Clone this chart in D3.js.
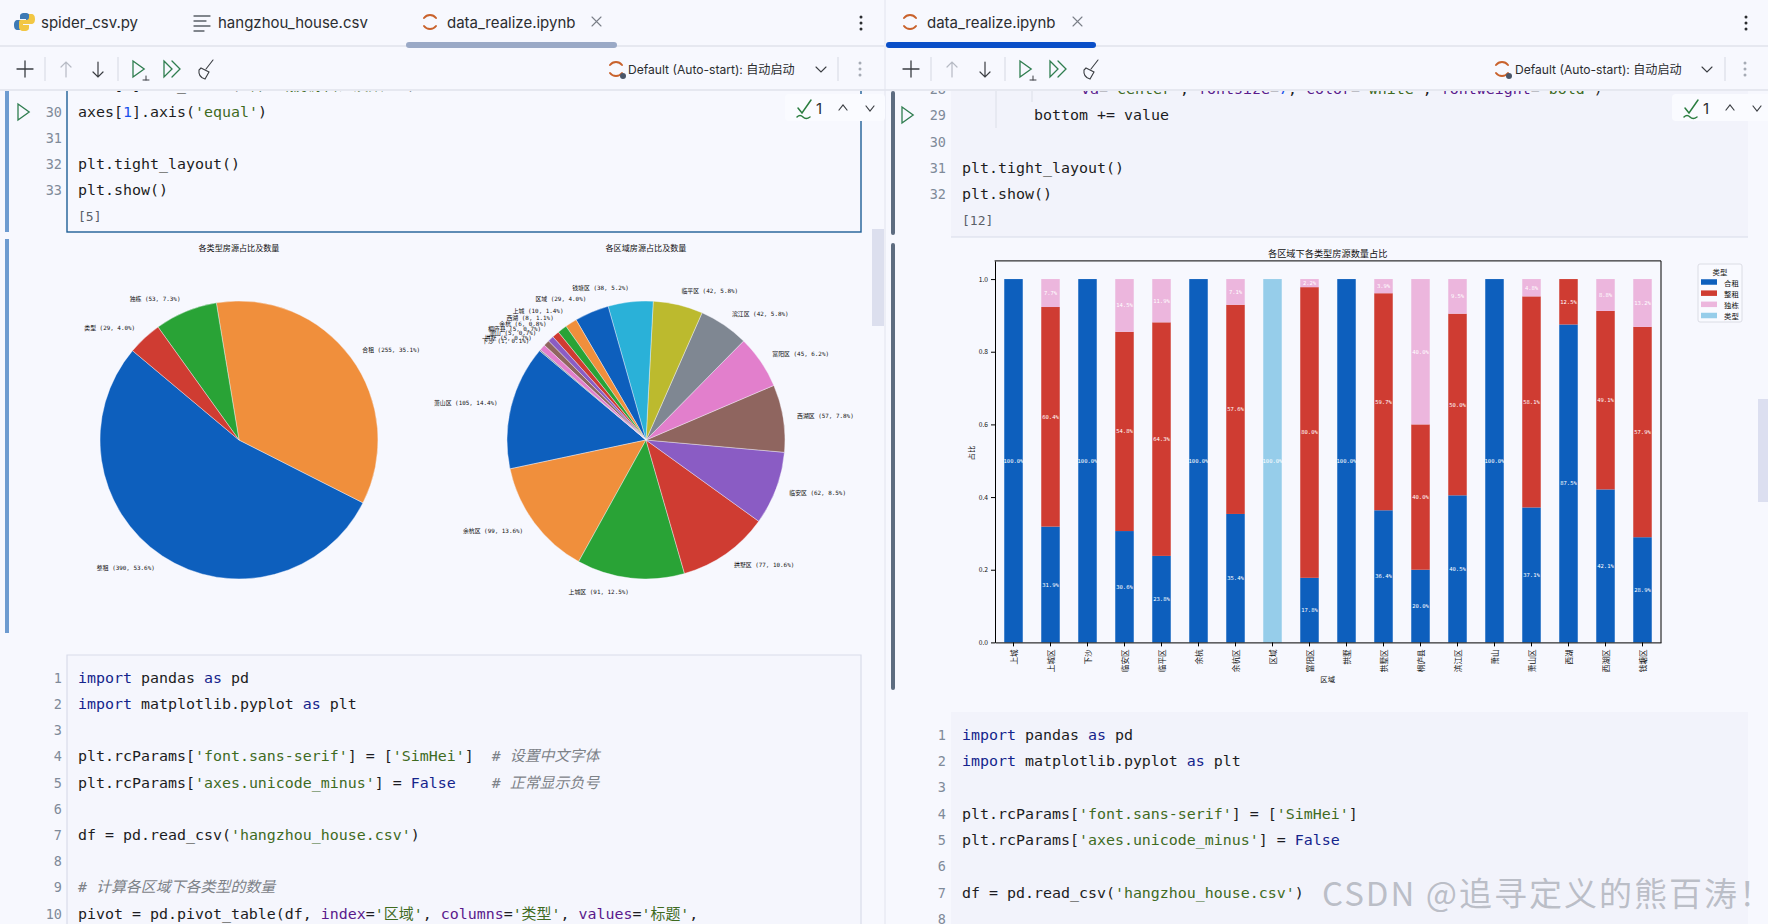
<!DOCTYPE html>
<html>
<head>
<meta charset="utf-8">
<title>data_realize.ipynb</title>
<script src="https://cdn.jsdelivr.net/npm/d3@7"></script>
<style>
  html, body { margin: 0; padding: 0; background: #f7f8fe; overflow: hidden; }
  svg { display: block; }
  text { font-family: "Noto Sans CJK SC", sans-serif; fill: #111; }
  .ui { font-family: Inter, "Noto Sans CJK SC", sans-serif; fill: #2b2d30; }
  .code { font-family: "DejaVu Sans Mono", "Noto Sans CJK SC", monospace; font-size: 14.95px; white-space: pre; fill: #1c1c22; }
  .lnum { font-family: "DejaVu Sans Mono", monospace; font-size: 13.5px; fill: #7f8a99; text-anchor: end; }
  .kw { fill: #14248c; }
  .str { fill: #3f6b1f; }
  .num { fill: #1750eb; }
  .param { fill: #5a1a8c; }
  .cmt { fill: #7d8288; font-style: italic; }
  .domain, .tick line { stroke: #000; stroke-width: 1; }
  .small { font-family: "DejaVu Sans Mono", "Noto Sans CJK SC", monospace; white-space: pre; }
</style>
</head>
<body>
<svg id="page" width="1768" height="924"></svg>
<script>
// pie 1: house types
const typeNames = ['整租', '合租', '独栋', '类型'];
const typeCounts = [390, 255, 53, 29];

// pie 2: regions
const pieRegions = ['萧山区', '余杭区', '上城区', '拱墅区', '临安区', '西湖区', '富阳区', '滨江区', '临平区', '钱塘区', '区域', '上城', '西湖', '余杭', '桐庐县', '萧山', '拱墅', '下沙'];
const pieRegionCounts = [105, 99, 91, 77, 62, 57, 45, 42, 42, 38, 29, 10, 8, 6, 5, 5, 5, 1];

// stacked bars
const barRegions = ['上城', '上城区', '下沙', '临安区', '临平区', '余杭', '余杭区', '区域', '富阳区', '拱墅', '拱墅区', '桐庐县', '滨江区', '萧山', '萧山区', '西湖', '西湖区', '钱塘区'];
const barTypes = ['合租', '整租', '独栋', '类型'];
const shared = [10, 29, 1, 19, 10, 6, 35, 0, 8, 5, 28, 1, 17, 5, 39, 7, 24, 11];
const whole = [0, 55, 0, 34, 27, 0, 57, 0, 36, 0, 46, 2, 21, 0, 61, 1, 28, 22];
const house = [0, 7, 0, 9, 5, 0, 7, 0, 1, 0, 3, 2, 4, 0, 5, 0, 5, 5];
const header = [0, 0, 0, 0, 0, 0, 0, 29, 0, 0, 0, 0, 0, 0, 0, 0, 0, 0];
const yTicks = [0, 0.2, 0.4, 0.6, 0.8, 1];

const pieColors = ['#0d5fbd', '#f08f3c', '#29a336', '#cf3c32', '#8a5cc4', '#8f655f', '#e27fcc', '#7f8792', '#bcba2e', '#2ab1d8'];
const barColors = ['#0d5fbd', '#cf3c32', '#ecb6dd', '#96cdea'];

const leftCodeTop = [
  [30, "axes[1].axis('equal')"],
  [31, ''],
  [32, 'plt.tight_layout()'],
  [33, 'plt.show()']
];
const leftCodeBottom = [
  "import pandas as pd",
  "import matplotlib.pyplot as plt",
  "",
  "plt.rcParams['font.sans-serif'] = ['SimHei']  # 设置中文字体",
  "plt.rcParams['axes.unicode_minus'] = False    # 正常显示负号",
  "",
  "df = pd.read_csv('hangzhou_house.csv')",
  "",
  "# 计算各区域下各类型的数量",
  "pivot = pd.pivot_table(df, index='区域', columns='类型', values='标题',"
];
const rightCodeBottom = [
  "import pandas as pd",
  "import matplotlib.pyplot as plt",
  "",
  "plt.rcParams['font.sans-serif'] = ['SimHei']",
  "plt.rcParams['axes.unicode_minus'] = False",
  "",
  "df = pd.read_csv('hangzhou_house.csv')",
  ""
];

const svg = d3.select('#page');
const rad = Math.PI / 180;

// ---------- editor chrome ----------
function line(x1, y1, x2, y2, color, w) {
  return svg.append('line').attr('x1', x1).attr('y1', y1).attr('x2', x2).attr('y2', y2)
    .attr('stroke', color).attr('stroke-width', w || 1);
}
function rect(x, y, w, h, fill, r) {
  return svg.append('rect').attr('x', x).attr('y', y).attr('width', w).attr('height', h)
    .attr('fill', fill).attr('rx', r || 0);
}
function path(d, stroke, w, fill) {
  return svg.append('path').attr('d', d).attr('stroke', stroke || 'none')
    .attr('stroke-width', w || 1.3).attr('fill', fill || 'none').attr('stroke-linecap', 'round');
}
function uiText(x, y, s, size) {
  return svg.append('text').attr('class', 'ui').attr('x', x).attr('y', y)
    .attr('dominant-baseline', 'central').attr('font-size', size).text(s);
}
function kebab(x, y, color) {
  [-6, 0, 6].forEach(d => svg.append('circle').attr('cx', x).attr('cy', y + d).attr('r', 1.5).attr('fill', color));
}
function jupyter(x, y) {
  path(`M${x - 6} ${y - 4}A7.5 7.5 0 0 1 ${x + 6} ${y - 4}`, '#c9622c', 2);
  path(`M${x - 6} ${y + 4}A7.5 7.5 0 0 0 ${x + 6} ${y + 4}`, '#c9622c', 2);
}
function playOutline(x, y, h) {
  path(`M${x} ${y - h}L${x + h * 1.4} ${y}L${x} ${y + h}Z`, '#2f7d4f', 1.3);
}
function toolbar(o) {
  path(`M${o.plus - 8} 69H${o.plus + 8}M${o.plus} 61V77`, '#3a3d42', 1.3);
  line(o.sep1, 57, o.sep1, 81, '#d5d8e2');
  path(`M${o.up} 62V77M${o.up - 5} 67L${o.up} 62L${o.up + 5} 67`, '#b6bac4', 1.2);
  path(`M${o.down} 62V77M${o.down - 5} 72L${o.down} 77L${o.down + 5} 72`, '#3a3d42', 1.2);
  line(o.sep2, 57, o.sep2, 81, '#d5d8e2');
  playOutline(o.run - 7, 69, 8);
  path(`M${o.run + 6} 76V80M${o.run + 3} 80H${o.run + 9}`, '#3a3d42', 1);
  path(`M${o.all - 8} 61L${o.all} 69L${o.all - 8} 77ZM${o.all} 61L${o.all + 8} 69L${o.all} 77`, '#2f7d4f', 1.3);
  path(`M${o.broom + 8} 60L${o.broom + 1} 69M${o.broom - 4} 68L${o.broom + 4} 72L${o.broom} 79Q${o.broom - 7} 77 ${o.broom - 6} 70Z`, '#3a3d42', 1.1);
  jupyter(o.kernel, 69);
  svg.append('circle').attr('cx', o.kernel + 7).attr('cy', 76).attr('r', 3).attr('fill', '#4a5568');
  uiText(o.kernelText, 69.5, 'Default (Auto-start): 自动启动', 12.1);
  path(`M${o.chevron - 5} 67L${o.chevron} 72L${o.chevron + 5} 67`, '#3a3d42', 1.1);
  line(o.sep3, 57, o.sep3, 81, '#d5d8e2');
  kebab(o.kebab, 69, '#a6abb5');
}
function inspections(x) {
  rect(x, 94, 100, 27, '#fafbff', 4);
  path(`M${x + 13} 108L${x + 17} 113L${x + 26} 100M${x + 12} 117Q${x + 15} 114 ${x + 18} 117T${x + 25} 117`, '#2a7d3f', 1.5);
  uiText(x + 31, 108, '1', 15);
  path(`M${x + 54} 110L${x + 58} 105L${x + 62} 110`, '#3a3d42', 1.2);
  path(`M${x + 81} 106L${x + 85} 111L${x + 89} 106`, '#3a3d42', 1.2);
}

// lightweight python colouring, one tspan per token
const tokenRe = /(#.*$)|('[^']*')|\b(import|as|False)\b|\b(\d+)\b|\b(index|columns|values|va|fontsize|color|fontweight)(?==)/g;
function codeLine(x, y, s, clipId) {
  const t = svg.append('text').attr('class', 'code').attr('x', x).attr('y', y).attr('dominant-baseline', 'central');
  if (clipId) t.attr('clip-path', `url(#${clipId})`);
  let last = 0;
  for (const m of s.matchAll(tokenRe)) {
    if (m.index > last) t.append('tspan').text(s.slice(last, m.index));
    const kind = m[1] ? 'cmt' : m[2] ? 'str' : m[3] ? 'kw' : m[4] ? 'num' : 'param';
    t.append('tspan').attr('class', kind).text(m[0]);
    last = m.index + m[0].length;
  }
  if (last < s.length) t.append('tspan').text(s.slice(last));
}
function lineNum(x, y, n, clipId) {
  const t = svg.append('text').attr('class', 'lnum').attr('x', x).attr('y', y)
    .attr('dominant-baseline', 'central').text(n);
  if (clipId) t.attr('clip-path', `url(#${clipId})`);
}

svg.append('defs').append('clipPath').attr('id', 'belowBar')
  .append('rect').attr('x', 0).attr('y', 91).attr('width', 1768).attr('height', 833);

// left tabs
path('M25 13C20 13 20 15 20 17V19H26V20H18C15 20 14 22 14 25C14 28 15 30 18 30H20V27C20 25 21 24 23 24H28C30 24 30 23 30 21V17C30 15 29 13 25 13Z', null, 1, '#3d7ab5');
path('M25 36C30 36 30 34 30 32V30H24V29H32C35 29 36 27 36 24C36 21 35 19 32 19H30V22C30 24 29 25 27 25H22C20 25 20 26 20 28V32C20 34 21 36 25 36Z', null, 1, '#f2c744').attr('transform', 'translate(-1,-5)');
uiText(41, 22.5, 'spider_csv.py', 15);
path('M194 16H210M194 21H206M194 26H210M194 31H204', '#5b6068', 1.3);
uiText(218, 22.5, 'hangzhou_house.csv', 15);
jupyter(430, 22);
uiText(447, 22.5, 'data_realize.ipynb', 15);
path('M592 17L601 26M601 17L592 26', '#7a7f88', 1.1);
kebab(861, 23, '#2b2d30');
line(0, 46, 884, 46, '#d5d8e2');
rect(406, 42, 211, 6, '#9aa9c6', 3);

// right tabs
jupyter(910, 22);
uiText(927, 22.5, 'data_realize.ipynb', 15);
path('M1073 17L1082 26M1082 17L1073 26', '#7a7f88', 1.1);
kebab(1746, 23, '#2b2d30');
line(885, 46, 1768, 46, '#d5d8e2');
rect(886, 42, 210, 6, '#0a4fc8', 3);

toolbar({ plus: 25, sep1: 45, up: 66, down: 98, sep2: 118, run: 140, all: 172, broom: 205, kernel: 616, kernelText: 628, chevron: 821, sep3: 838, kebab: 860 });
toolbar({ plus: 911, sep1: 931, up: 952, down: 985, sep2: 1005, run: 1027, all: 1058, broom: 1090, kernel: 1502, kernelText: 1515, chevron: 1707, sep3: 1725, kebab: 1745 });
line(0, 90, 1768, 90, '#d5d8e2');
line(885, 0, 885, 924, '#e2e4ee');

// ---------- left notebook cells ----------
rect(5, 91, 4, 141, '#6d9bd0');
rect(5, 239, 4, 394, '#6d9bd0');
svg.append('rect').attr('x', 67).attr('y', 80).attr('width', 794).attr('height', 152)
  .attr('fill', 'none').attr('stroke', '#1f5f96').attr('stroke-width', 1.4).attr('clip-path', 'url(#belowBar)');
inspections(785);
playOutline(18, 112, 8);
// previous line is cut by the toolbar, only its lowest pixels show
lineNum(62, 85, 29, 'belowBar');
codeLine(78, 85, "axes[1].set_title('各区域房源占比及数量')", 'belowBar');
leftCodeTop.forEach(([n, s]) => {
  const y = 112 + (n - 30) * 26;
  lineNum(62, y, n);
  codeLine(78, y, s);
});
svg.append('text').attr('class', 'code').attr('x', 78).attr('y', 216.5).style('font-size', '13px')
  .attr('dominant-baseline', 'central').style('fill', '#5a6068').text('[5]');
rect(872, 229, 12, 97, '#dcdfee');

rect(67, 655, 794, 269, '#f5f6fd');
path('M67 924V655H861V924', '#d9dcea', 1.2);
leftCodeBottom.forEach((s, i) => {
  const y = 677.8 + i * 26.2;
  lineNum(62, y, i + 1);
  codeLine(78, y, s);
});

// ---------- right notebook cells ----------
rect(891, 91, 4, 144, '#5d6c80', 2);
rect(891, 243, 4, 447, '#5d6c80', 2);
rect(951, 91, 797, 146, '#f2f3fb');
line(951, 237, 1748, 237, '#d8dbe8');
inspections(1672);
playOutline(902, 115, 8);
lineNum(946, 89, 28, 'belowBar');
codeLine(1081, 89, "va='center', fontsize=7, color='white', fontweight='bold')", 'belowBar');
lineNum(946, 115, 29);
codeLine(1034, 115, 'bottom += value');
lineNum(946, 142, 30);
lineNum(946, 168, 31);
codeLine(962, 168, 'plt.tight_layout()');
lineNum(946, 194, 32);
codeLine(962, 194, 'plt.show()');
svg.append('text').attr('class', 'code').attr('x', 962).attr('y', 220.5).style('font-size', '13px')
  .attr('dominant-baseline', 'central').style('fill', '#5a6068').text('[12]');
line(996, 91, 996, 128, '#dcdfe8');
line(1032, 91, 1032, 102, '#dcdfe8');
rect(1758, 399, 10, 103, '#dcdff0');

rect(951, 712, 797, 212, '#f2f3fb');
rightCodeBottom.forEach((s, i) => {
  const y = 734.8 + i * 26.3;
  lineNum(946, y, i + 1);
  codeLine(962, y, s);
});

// ---------- pies ----------
function drawPie(cx, title, names, values) {
  const cy = 440, r = 139;
  const total = d3.sum(values);
  // matplotlib startangle=140, counter clockwise: d3 angles run clockwise from 12 o'clock
  const start = (90 - 140) * rad;
  const arcs = d3.pie().sort(null).startAngle(start).endAngle(start - 2 * Math.PI)(values);
  const arc = d3.arc().innerRadius(0).outerRadius(r);
  const labelArc = d3.arc().innerRadius(r * 1.1).outerRadius(r * 1.1);
  const g = svg.append('g').attr('transform', `translate(${cx},${cy})`);
  const colors = d3.scaleOrdinal(d3.range(10), pieColors);

  g.selectAll('path').data(arcs).join('path')
    .attr('d', arc)
    .attr('fill', (d, i) => colors(i % 10))
    .attr('stroke', '#f7f8fe').attr('stroke-width', 0.4);

  g.selectAll('text').data(arcs).join('text')
    .attr('class', 'small')
    .attr('x', d => labelArc.centroid(d)[0])
    .attr('y', d => labelArc.centroid(d)[1])
    .attr('text-anchor', d => labelArc.centroid(d)[0] > 0 ? 'start' : 'end')
    .attr('dominant-baseline', 'central')
    .attr('font-size', 5.9)
    .text((d, i) => `${names[i]} (${d.value}, ${d3.format('.1f')(d.value / total * 100)}%)`);

  svg.append('text').attr('x', cx).attr('y', 247.5).attr('text-anchor', 'middle')
    .attr('dominant-baseline', 'central').attr('font-size', 8.1).text(title);
}
drawPie(239, '各类型房源占比及数量', typeNames, typeCounts);
drawPie(646, '各区域房源占比及数量', pieRegions, pieRegionCounts);

// ---------- stacked bars ----------
const rows = barRegions.map((name, i) => {
  const sum = shared[i] + whole[i] + house[i] + header[i];
  return { name, 合租: shared[i] / sum, 整租: whole[i] / sum, 独栋: house[i] / sum, 类型: header[i] / sum };
});
const series = d3.stack().keys(barTypes)(rows);

const x = d3.scaleBand().domain(barRegions).range([995, 1661]).paddingInner(0.5).paddingOuter(0.25);
const y = d3.scaleLinear().domain([0, 1.05]).range([642.4, 260.9]);
const color = d3.scaleOrdinal(barTypes, barColors);

const barG = svg.append('g');
series.forEach(s => {
  barG.append('g').selectAll('rect').data(s).join('rect')
    .attr('x', d => x(d.data.name))
    .attr('width', x.bandwidth())
    .attr('y', d => y(d[1]))
    .attr('height', d => y(d[0]) - y(d[1]))
    .attr('fill', color(s.key));
  barG.append('g').selectAll('text').data(s.filter(d => d[1] > d[0])).join('text')
    .attr('class', 'small')
    .attr('x', d => x(d.data.name) + x.bandwidth() / 2)
    .attr('y', d => y((d[0] + d[1]) / 2))
    .attr('text-anchor', 'middle').attr('dominant-baseline', 'central')
    .attr('font-size', 5.5)
    .style('fill', '#fff')
    .text(d => d3.format('.1f')((d[1] - d[0]) * 100) + '%');
});

const xAxis = svg.append('g').attr('transform', 'translate(0,642.4)')
  .call(d3.axisBottom(x).tickSize(4).tickSizeOuter(0));
xAxis.selectAll('.tick text')
  .attr('font-size', 7.6).attr('font-family', '"Noto Sans CJK SC"')
  .attr('transform', 'rotate(-90)').attr('text-anchor', 'end').attr('dominant-baseline', 'central')
  .attr('x', -7).attr('y', 0).attr('dy', 0);

const yAxis = svg.append('g').attr('transform', 'translate(995,0)')
  .call(d3.axisLeft(y).tickValues(yTicks).tickFormat(d3.format('.1f')).tickSize(4).tickSizeOuter(0));
yAxis.selectAll('.tick text').attr('font-size', 6.7).attr('font-family', '"DejaVu Sans Mono"');

// top and right spines
path('M995 260.9H1661V642.4', '#000', 1);

svg.append('text').attr('x', 1327.7).attr('y', 252.5).attr('text-anchor', 'middle')
  .attr('dominant-baseline', 'central').attr('font-size', 9.2).text('各区域下各类型房源数量占比');
svg.append('text').attr('x', 1327.7).attr('y', 678).attr('text-anchor', 'middle')
  .attr('dominant-baseline', 'central').attr('font-size', 7.4).text('区域');
svg.append('text').attr('transform', 'translate(970.7,453) rotate(-90)').attr('text-anchor', 'middle')
  .attr('dominant-baseline', 'central').attr('font-size', 7.4).text('占比');

// legend
rect(1698, 264, 44, 58, '#f9faff', 2).attr('stroke', '#d4d6de').attr('stroke-width', 0.8);
svg.append('text').attr('x', 1720).attr('y', 271.5).attr('text-anchor', 'middle')
  .attr('dominant-baseline', 'central').attr('font-size', 7.4).text('类型');
const legendY = d3.scalePoint().domain(barTypes).range([282, 315.5]);
const legend = svg.append('g');
legend.selectAll('rect').data(barTypes).join('rect')
  .attr('x', 1701).attr('width', 16).attr('height', 5.5)
  .attr('y', d => legendY(d) - 2.75).attr('fill', d => color(d));
legend.selectAll('text').data(barTypes).join('text')
  .attr('x', 1724).attr('y', d => legendY(d)).attr('dominant-baseline', 'central')
  .attr('font-size', 7.4).text(d => d);

// watermark
svg.append('text').attr('x', 1322).attr('y', 892).attr('dominant-baseline', 'central')
  .attr('font-size', 33).style('fill', 'rgba(150,154,164,0.6)').attr('letter-spacing', 2)
  .text('CSDN @追寻定义的熊百涛！');
</script>
</body>
</html>
